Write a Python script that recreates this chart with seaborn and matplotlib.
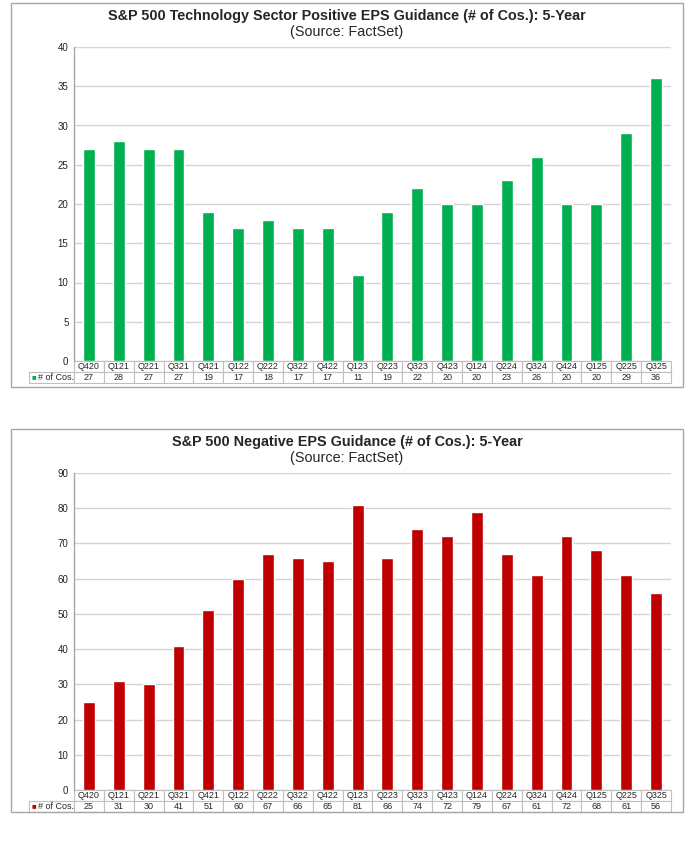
import matplotlib
matplotlib.use("Agg")
import matplotlib.pyplot as plt
import seaborn as sns
import pandas as pd
from matplotlib.patches import Rectangle

quarters = ["Q420", "Q121", "Q221", "Q321", "Q421", "Q122", "Q222", "Q322", "Q422", "Q123",
            "Q223", "Q323", "Q423", "Q124", "Q224", "Q324", "Q424", "Q125", "Q225", "Q325"]
positive = [27, 28, 27, 27, 19, 17, 18, 17, 17, 11, 19, 22, 20, 20, 23, 26, 20, 20, 29, 36]
negative = [25, 31, 30, 41, 51, 60, 67, 66, 65, 81, 66, 74, 72, 79, 67, 61, 72, 68, 61, 56]
series_label = "# of Cos."

sns.set_theme(style="white")
plt.rcParams["font.family"] = ["Liberation Sans", "DejaVu Sans"]

W, H = 698, 842
fig = plt.figure(figsize=(W / 100, H / 100), dpi=100)


def px_rect(x0, y0, x1, y1):
    # pixel box (top-left origin) -> figure coords
    return [x0 / W, 1 - y1 / H, (x1 - x0) / W, (y1 - y0) / H]


def panel(box, plot_box, values, ymax, step, color, title):
    fig.patches.append(Rectangle(box[:2], box[2], box[3], transform=fig.transFigure,
                                 fill=False, edgecolor="#a6a6a6", linewidth=1.0))
    cx = box[0] + box[2] / 2
    top = box[1] + box[3]
    fig.text(cx, top - 13 / H, title, ha="center", va="center", fontsize=10.4, fontweight="bold")
    fig.text(cx, top - 29 / H, "(Source: FactSet)", ha="center", va="center", fontsize=10.4)

    ax = fig.add_axes(plot_box)
    df = pd.DataFrame({"quarter": quarters, "value": values})
    sns.barplot(data=df, x="quarter", y="value", color=color, saturation=1,
                width=0.4, ax=ax, errorbar=None)
    ax.set_ylim(0, ymax)
    ax.set_yticks(range(0, ymax + 1, step))
    ax.yaxis.grid(True, color="#d4d4d4", linewidth=1.0)
    ax.set_axisbelow(True)
    ax.tick_params(axis="y", labelsize=7, colors="#222222", length=0, pad=4)
    ax.set_xticks([])
    ax.set_xlabel("")
    ax.set_ylabel("")
    for s in ["top", "right", "bottom"]:
        ax.spines[s].set_visible(False)
    ax.spines["left"].set_color("#a6a6a6")
    ax.spines["left"].set_linewidth(1.0)

    # data table underneath
    ax_w_px = plot_box[2] * W
    ax_h_px = plot_box[3] * H
    lab_w = 45 / ax_w_px
    th = 22 / ax_h_px
    col_w = 1 / len(quarters)
    tbl = ax.table(cellText=[[""] + quarters, [""] + [str(v) for v in values]],
                   colWidths=[lab_w] + [col_w] * len(quarters), cellLoc="center",
                   bbox=[-lab_w, -th, 1 + lab_w, th])
    tbl.auto_set_font_size(False)
    tbl.set_fontsize(6.5)
    for (r, c), cell in tbl.get_celld().items():
        cell.set_edgecolor("#bfbfbf")
        cell.set_linewidth(0.8)
        cell.PAD = 0.02
        if r == 0 and c == 0:
            cell.visible_edges = ""
    ax.text(-lab_w + 3 / ax_w_px, -th * 0.75, "■", transform=ax.transAxes, color=color,
            fontsize=5.5, ha="left", va="center")
    ax.text(-lab_w + 9 / ax_w_px, -th * 0.75, series_label, transform=ax.transAxes,
            fontsize=6.5, ha="left", va="center")
    return ax


panel(px_rect(11, 3, 683, 387), px_rect(74, 47, 671, 361), positive, 40, 5, "#00B050",
      "S&P 500 Technology Sector Positive EPS Guidance (# of Cos.): 5-Year")
panel(px_rect(11, 429, 683, 812), px_rect(74, 473, 671, 790), negative, 90, 10, "#C00000",
      "S&P 500 Negative EPS Guidance (# of Cos.): 5-Year")

fig.savefig("out.png", dpi=100)
